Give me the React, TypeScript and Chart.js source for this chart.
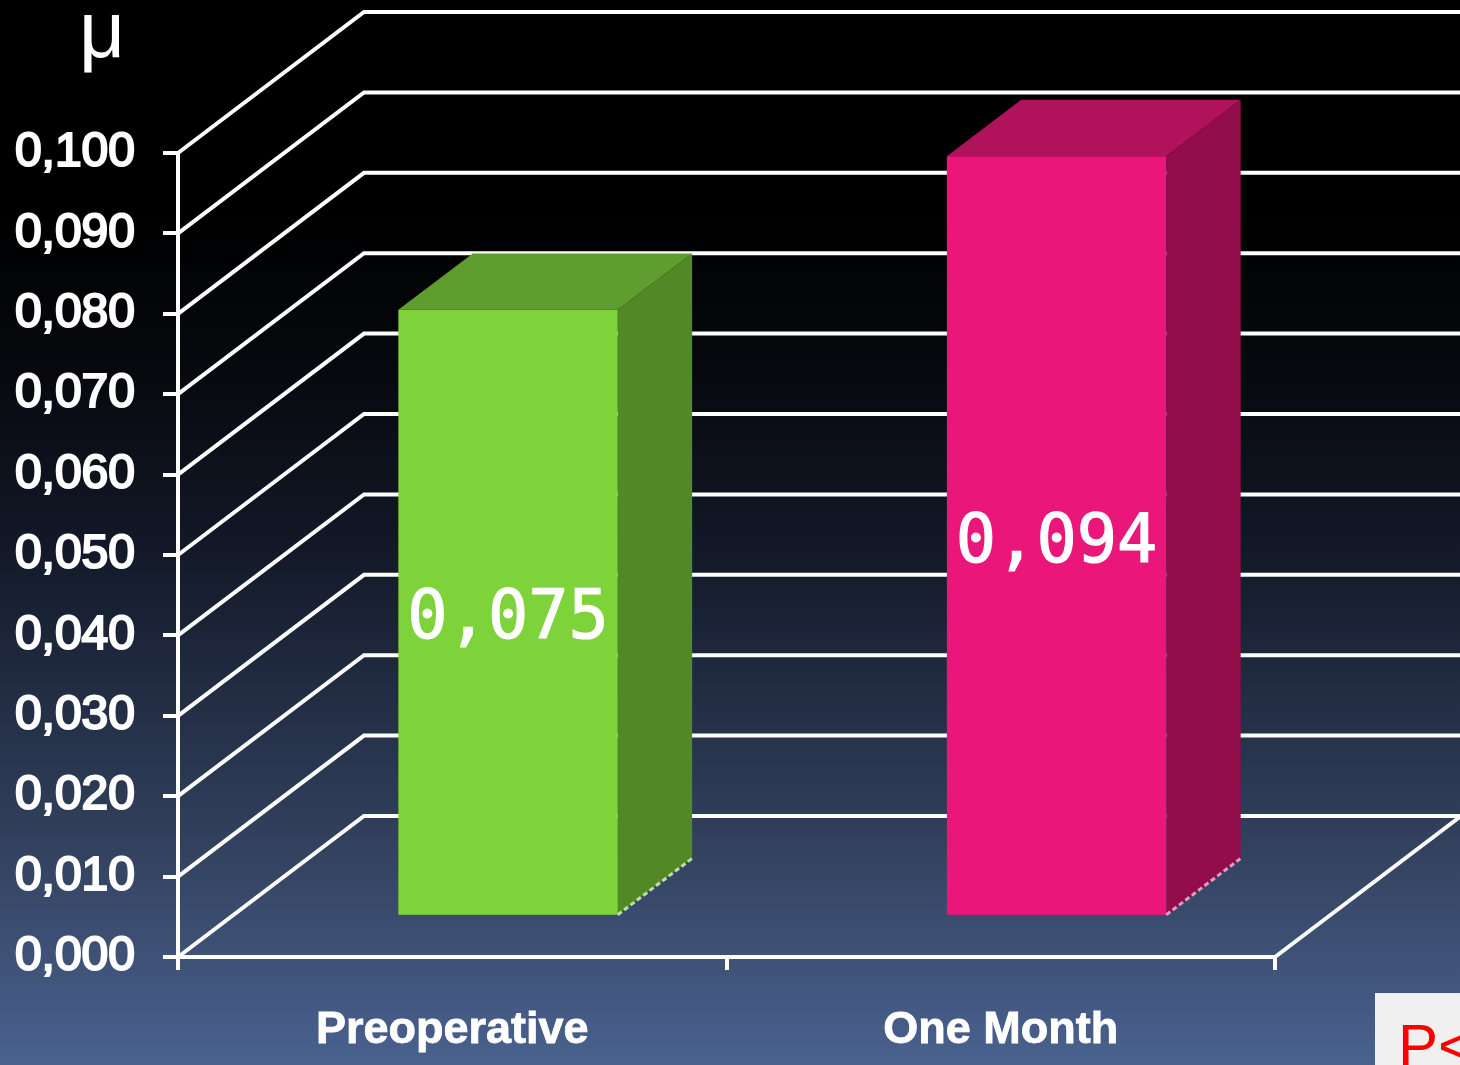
import React, { useEffect, useRef } from "react";
import { Chart, registerables } from "chart.js";

Chart.register(...registerables);

const categories = ["Preoperative", "One Month"];
const values = [0.0755, 0.0946];
const valueLabels = ["0,075", "0,094"];
const frontColors = ["#7ed23a", "#ea167a"];
const topColors = ["#5f9d2e", "#b1125c"];
const sideColors = ["#528826", "#930d4b"];
const edgeColors = ["rgba(200,235,175,0.9)", "rgba(245,165,200,0.9)"];
const yMin = 0;
const yMax = 0.1;
const yStep = 0.01;
const unitLabel = "μ";
const noteLabel = "P<";

const W = 1460;
const H = 1065;
const DX = 186;
const DY = -141;
const BAR_FRONT_X = 0.3;
const BAR_FRONT_Y = 0.285;
const BAR_DEPTH = 0.4;

const fmt = (v: number) => v.toFixed(3).replace(".", ",");

const threeD = {
  id: "threeD",
  beforeDraw(chart: any) {
    const { ctx, chartArea, scales } = chart;
    const y = scales.y;
    ctx.save();
    const g = ctx.createLinearGradient(0, 0, 0, H);
    g.addColorStop(0, "#000000");
    g.addColorStop(0.2, "#000000");
    g.addColorStop(0.35, "#07090e");
    g.addColorStop(0.51, "#121827");
    g.addColorStop(0.66, "#232e45");
    g.addColorStop(0.8, "#33425f");
    g.addColorStop(1, "#4a6290");
    ctx.fillStyle = g;
    ctx.fillRect(0, 0, W, H);

    ctx.strokeStyle = "#ffffff";
    ctx.lineWidth = 4;
    ctx.lineJoin = "miter";
    const ticks = y.ticks || [];
    for (const t of ticks) {
      const py = y.getPixelForValue(t.value);
      ctx.beginPath();
      ctx.moveTo(chartArea.left, py);
      ctx.lineTo(chartArea.left + DX, py + DY);
      ctx.lineTo(W, py + DY);
      ctx.stroke();
    }
    ctx.beginPath();
    ctx.moveTo(chartArea.right, chartArea.bottom);
    ctx.lineTo(chartArea.right + DX, chartArea.bottom + DY);
    ctx.stroke();
    ctx.restore();
  },
  beforeDatasetsDraw(chart: any) {
    const { ctx } = chart;
    const meta = chart.getDatasetMeta(0);
    ctx.save();
    meta.data.forEach((bar: any, i: number) => {
      const ox = DX * BAR_FRONT_X;
      const oy = DY * BAR_FRONT_Y;
      const ddx = DX * BAR_DEPTH;
      const ddy = DY * BAR_DEPTH;
      const x1 = bar.x - bar.width / 2 + ox;
      const x2 = bar.x + bar.width / 2 + ox;
      const top = bar.y + oy;
      const bot = bar.base + oy;
      ctx.fillStyle = sideColors[i];
      ctx.beginPath();
      ctx.moveTo(x2, top);
      ctx.lineTo(x2 + ddx, top + ddy);
      ctx.lineTo(x2 + ddx, bot + ddy);
      ctx.lineTo(x2, bot);
      ctx.closePath();
      ctx.fill();
      ctx.fillStyle = topColors[i];
      ctx.beginPath();
      ctx.moveTo(x1, top);
      ctx.lineTo(x2, top);
      ctx.lineTo(x2 + ddx, top + ddy);
      ctx.lineTo(x1 + ddx, top + ddy);
      ctx.closePath();
      ctx.fill();
      ctx.fillStyle = frontColors[i];
      ctx.fillRect(x1, top, x2 - x1, bot - top);
      ctx.strokeStyle = edgeColors[i];
      ctx.lineWidth = 3;
      ctx.setLineDash([5, 3]);
      ctx.beginPath();
      ctx.moveTo(x2, bot);
      ctx.lineTo(x2 + ddx, bot + ddy);
      ctx.stroke();
      ctx.setLineDash([]);
      ctx.fillStyle = "#ffffff";
      ctx.strokeStyle = "#ffffff";
      ctx.lineWidth = 1.2;
      ctx.font = "67px 'DejaVu Sans Mono', monospace";
      ctx.textAlign = "center";
      ctx.textBaseline = "alphabetic";
      const tx = (x1 + x2) / 2;
      const ty = (top + bot) / 2 + 26;
      ctx.fillText(valueLabels[i], tx, ty);
      ctx.strokeText(valueLabels[i], tx, ty);
    });
    ctx.restore();
    return false;
  },
  afterDraw(chart: any) {
    const { ctx } = chart;
    ctx.save();
    ctx.fillStyle = "#ffffff";
    ctx.font = "80px 'Liberation Sans', Arial, sans-serif";
    ctx.textAlign = "center";
    ctx.textBaseline = "alphabetic";
    ctx.fillText(unitLabel, 102, 57);
    ctx.fillStyle = "#f0f0f0";
    ctx.fillRect(1375, 993, W - 1375, H - 993);
    ctx.fillStyle = "#ff0000";
    ctx.font = "60px 'Liberation Sans', Arial, sans-serif";
    ctx.textAlign = "left";
    ctx.fillText(noteLabel, 1398, 1066);
    ctx.restore();
  },
};

export default function App() {
  const ref = useRef<HTMLCanvasElement | null>(null);
  useEffect(() => {
    if (!ref.current) return;
    const chart = new Chart(ref.current, {
      type: "bar",
      data: {
        labels: categories,
        datasets: [
          {
            data: values,
            backgroundColor: frontColors,
            categoryPercentage: 1,
            barPercentage: 0.4,
          },
        ],
      },
      options: {
        responsive: false,
        animation: false,
        layout: { padding: { top: 153, right: 185, left: 0, bottom: 0 } },
        plugins: { legend: { display: false }, tooltip: { enabled: false } },
        scales: {
          x: {
            offset: true,
            grid: {
              display: true,
              offset: true,
              drawOnChartArea: false,
              drawTicks: true,
              tickLength: 13,
              color: "#ffffff",
              lineWidth: 4,
            },
            border: { display: true, color: "#ffffff", width: 4 },
            ticks: {
              color: "#ffffff",
              padding: 34,
              maxRotation: 0,
              textStrokeColor: "#ffffff",
              textStrokeWidth: 0.8,
              font: { family: "'Liberation Sans', Arial, sans-serif", size: 45, weight: "bold" },
            },
            afterFit: (s: any) => {
              s.height = 108;
            },
          },
          y: {
            min: yMin,
            max: yMax,
            grid: {
              display: true,
              drawOnChartArea: false,
              drawTicks: true,
              tickLength: 15,
              color: "#ffffff",
              lineWidth: 4,
            },
            border: { display: true, color: "#ffffff", width: 4 },
            ticks: {
              stepSize: yStep,
              color: "#ffffff",
              padding: 28,
              textStrokeColor: "#ffffff",
              textStrokeWidth: 2.2,
              font: { family: "'Liberation Sans', Arial, sans-serif", size: 48 },
              callback: (v: any) => fmt(Number(v)),
            },
            afterFit: (s: any) => {
              s.width = 178;
            },
          },
        },
      },
      plugins: [threeD],
    } as any);
    return () => chart.destroy();
  }, []);
  return (
    <div style={{ position: "fixed", left: 0, top: 0, width: W, height: H }}>
      <canvas ref={ref} width={W} height={H} style={{ display: "block", width: W, height: H }} />
    </div>
  );
}
